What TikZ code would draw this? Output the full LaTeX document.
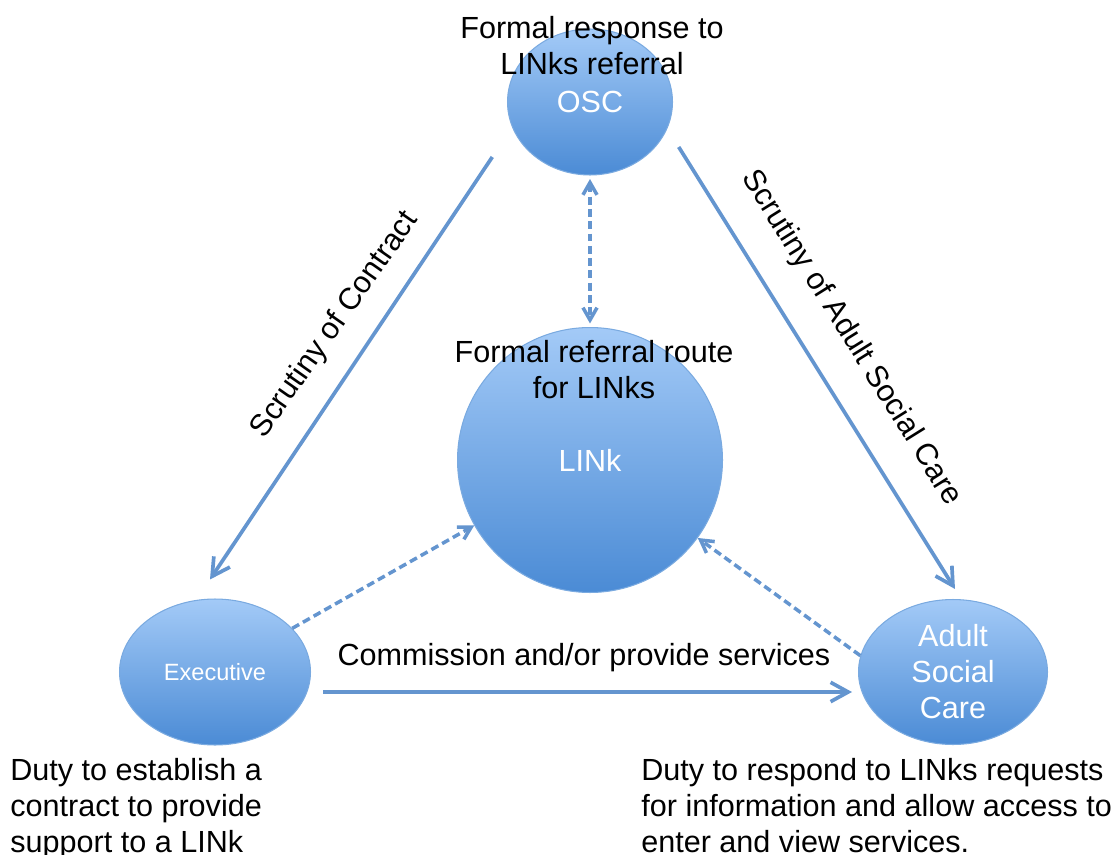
\documentclass[tikz,border=0pt]{standalone}
\usepackage{fontspec}
\setmainfont{Liberation Sans}
\usepackage{xcolor}
\usetikzlibrary{shapes.geometric,arrows.meta}

\definecolor{balltop}{HTML}{A3CAF7}
\definecolor{ballbot}{HTML}{4B8BD5}
\definecolor{balledge}{HTML}{7AAAE0}
\definecolor{linkline}{HTML}{6495CF}

\newcommand{\txtbig}{\fontsize{17.4}{20.5}\selectfont}
\newcommand{\txtsmall}{\fontsize{13.4}{16}\selectfont}

\begin{document}
\begin{tikzpicture}[x=0.02cm, y=-0.02cm,
    >={Straight Barb[length=7pt,width=8pt]},
    ball/.style={shape=ellipse, draw=balledge, line width=0.6pt, top color=balltop, bottom color=ballbot, text=white, align=center, inner sep=0pt, font=\txtbig},
    lbl/.style={align=center, inner sep=0pt, font=\txtbig, text=black},
    solidarr/.style={draw=linkline, line width=2.1pt, -{Straight Barb[length=10pt,width=11pt]}},
    dasharr/.style={draw=linkline, line width=2pt, dash pattern=on 4.5pt off 2.5pt}]
    \useasboundingbox (0,0) rectangle (1119,855);

    % the four bodies
    \node[ball, minimum width=3.3cm, minimum height=2.92cm] (osc) at (590,102) {OSC};
    \node[ball, minimum size=5.3cm] (link) at (590,460) {LINk};
    \node[ball, minimum width=3.82cm, minimum height=2.92cm, font=\txtsmall] (exec) at (215,672) {Executive};
    \node[ball, minimum width=3.78cm, minimum height=2.9cm] (asc) at (953,672) {Adult\\Social\\Care};

    % scrutiny and commissioning
    \draw[solidarr] ([shift={(-39,3)}]osc.south west) -- ([shift={(-5,-19)}]exec.north);
    \draw[solidarr] ([shift={(30,-7)}]osc.south east) -- ([shift={(2,-10)}]asc.north);
    \draw[solidarr, shorten <=0.24cm, shorten >=0.12cm] ([yshift=-0.4cm]exec.east) -- ([yshift=-0.4cm]asc.west);

    % links into the LINk
    \draw[dasharr, <->, shorten <=2pt, shorten >=2pt] (osc) -- (link);
    \draw[dasharr, ->] (exec) -- (link);
    \draw[dasharr, ->] (asc.170) -- (link);

    \node[lbl] (resp) at (592,46) {Formal response to\\LINks referral};
    \node[lbl] (route) at (594,370) {Formal referral route\\for LINks};
    \node[lbl, rotate=55] (sccon) at (335,325) {Scrutiny of Contract};
    \node[lbl, rotate=-58] (scasc) at (851,338) {Scrutiny of Adult Social Care};
    \node[lbl] (comm) at (584,658) {Commission and/or provide services};
    \node[lbl, align=left, anchor=north west] (dutyex) at (10,758) {Duty to establish a\\contract to provide\\support to a LINk};
    \node[lbl, align=left, anchor=north west] (dutyasc) at (641,758) {Duty to respond to LINks requests\\for information and allow access to\\enter and view services.};
\end{tikzpicture}
\end{document}
